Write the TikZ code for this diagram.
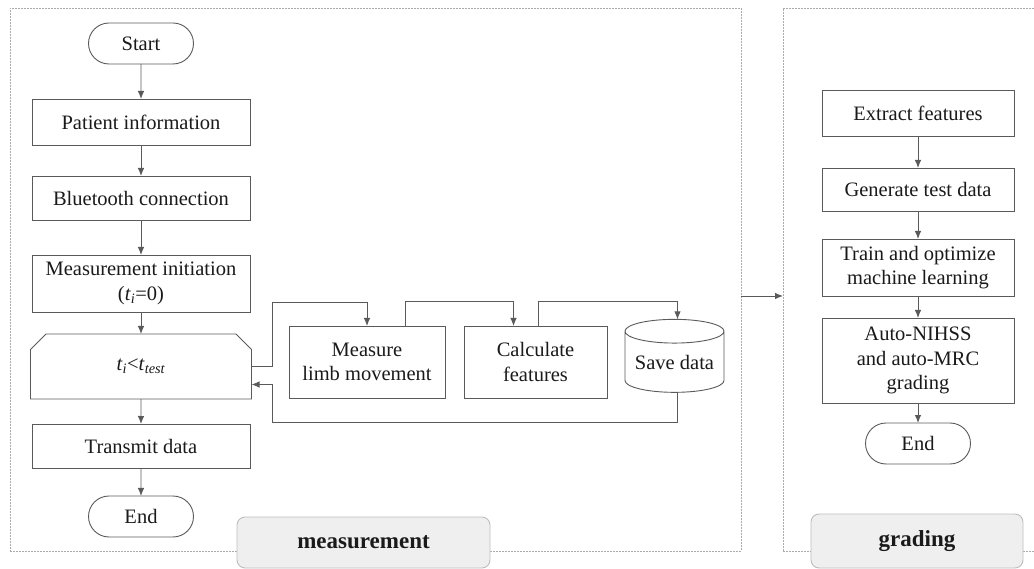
\documentclass[tikz,border=0pt]{standalone}
\usepackage{fontspec}
\setmainfont{Liberation Serif}
\usetikzlibrary{positioning,arrows.meta,shapes.misc,shapes.geometric}
\definecolor{linegray}{HTML}{5A5A5A}
\definecolor{textgray}{HTML}{1A1A1A}
\definecolor{framegray}{HTML}{ABABAB}
\definecolor{tagfill}{HTML}{EFEFEF}
\definecolor{tagdraw}{HTML}{BDBDBD}
\tikzset{
  >={Latex[length=8pt,width=6.5pt]},
  every node/.style={inner sep=0pt,outer sep=0pt,text=textgray,
    font=\fontsize{20.5}{24.5}\selectfont},
  process/.style={rectangle,draw=linegray,line width=0.9pt,align=center,
    minimum width=218pt},
  terminal/.style={rounded rectangle,draw=linegray,line width=0.9pt,
    minimum width=105pt,minimum height=41pt},
  loopcheck/.style={chamfered rectangle,
    chamfered rectangle corners={north west,north east},
    chamfered rectangle sep=8pt,
    draw=linegray,line width=0.9pt,minimum width=221pt,minimum height=65pt},
  storage/.style={cylinder,shape border rotate=90,aspect=0.3,draw=linegray,
    line width=0.9pt,minimum width=99pt,minimum height=73pt},
  flow/.style={->,draw=linegray,line width=0.9pt},
  frame/.style={rectangle,draw=framegray,dashed,dash pattern=on 2pt off 1pt,
    line width=0.9pt},
  tag/.style={rectangle,rounded corners=8pt,fill=tagfill,draw=tagdraw,
    line width=0.9pt,font=\fontsize{23}{27}\selectfont\bfseries}
}
\begin{document}
\begin{tikzpicture}[x=1pt,y=-1pt]
  \useasboundingbox (0,0) rectangle (1034,569);

  % the two dashed panels
  \node[frame,minimum width=731pt,minimum height=543pt] (measFrame) at (375.5,279.5) {};
  \node[frame,minimum width=262pt,minimum height=543pt] (gradFrame) at (914,279.5) {};

  % measurement column
  \node[terminal] (start) at (141,43.5) {Start};
  \node[process,minimum height=46pt,below=35pt of start] (pinfo) {Patient information};
  \node[process,minimum height=44pt,below=31pt of pinfo] (bt) {Bluetooth connection};
  \node[process,minimum height=57pt,below=35pt of bt] (init)
    {Measurement initiation\\(\textit{t}\textsubscript{\textit{i}}=0)};
  \node[loopcheck,below=22pt of init] (check)
    {\textit{t}\textsubscript{\textit{i}}<\textit{t}\textsubscript{\textit{test}}};
  \node[process,minimum height=44pt,below=25pt of check] (txd) {Transmit data};
  \node[terminal,below=28pt of txd] (endA) {End};

  % inner loop
  \node[process,minimum width=156pt,minimum height=72pt] (meas) at (367,362)
    {Measure\\limb movement};
  \node[process,minimum width=143pt,minimum height=72pt,right=19pt of meas] (calc)
    {Calculate\\features};
  \node[storage,right=18pt of calc] (save) {Save data};

  % grading column
  \node[process,minimum width=192pt,minimum height=46pt] (ext) at (918,113) {Extract features};
  \node[process,minimum width=192pt,minimum height=43pt,below=32pt of ext] (gen) {Generate test data};
  \node[process,minimum width=192pt,minimum height=57pt,below=28pt of gen] (train)
    {Train and optimize\\machine learning};
  \node[process,minimum width=192pt,minimum height=85pt,below=22pt of train] (auto)
    {Auto-NIHSS\\and auto-MRC\\grading};
  \node[terminal,below=20pt of auto] (endB) {End};

  % panel tags
  \node[tag,minimum width=253pt,minimum height=51pt] (measTag) at (363.5,542.5) {measurement};
  \node[tag,minimum width=212pt,minimum height=54pt] (gradTag) at (917,541) {grading};

  \coordinate (loopA) at (272,302);
  \coordinate (loopB) at (272,422);

  \draw[flow] (start) -- (pinfo);
  \draw[flow] (pinfo) -- (bt);
  \draw[flow] (bt) -- (init);
  \draw[flow] (init) -- (check);
  \draw[flow] (check) -- (txd);
  \draw[flow] (txd) -- (endA);

  \draw[flow] (check.east) -| (loopA) -| (meas.north);
  \draw[flow] ([xshift=38pt]meas.north) -- ++(0,-25) -| ([xshift=-22pt]calc.north);
  \draw[flow] ([xshift=3pt]calc.north) -- ++(0,-25) -| ([xshift=3pt]save.north);
  \draw[flow] ([xshift=3pt]save.south) |- (loopB) |- ([yshift=-18pt]check.east);

  \draw[flow] (ext) -- (gen);
  \draw[flow] (gen) -- (train);
  \draw[flow] (train) -- (auto);
  \draw[flow] (auto) -- (endB);

  \draw[flow] (measFrame.east |- 0,296) -- (gradFrame.west |- 0,296);
\end{tikzpicture}
\end{document}
